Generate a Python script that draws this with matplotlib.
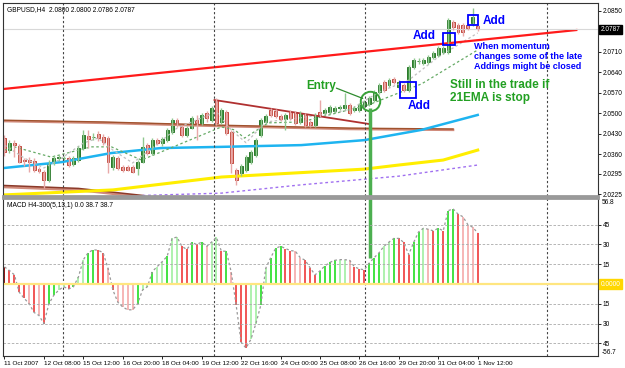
# GBPUSD H4 chart with MACD, trade entry and add-ons
import numpy as np
import matplotlib.pyplot as plt

plt.rcParams['font.family'] = ['Liberation Sans', 'DejaVu Sans']

# ---- candles (bar index 0 = 11 Oct 2007 00:00, H4) ----
opens = [2.0416, 2.0375, 2.0399, 2.0389, 2.0341, 2.0341, 2.0338, 2.0310, 2.0300, 2.0273,
         2.0331, 2.0348, 2.0348, 2.0348, 2.0327, 2.0341, 2.0382, 2.0423, 2.0420, 2.0430,
         2.0420, 2.0416, 2.0317, 2.0348, 2.0317, 2.0317, 2.0317, 2.0314, 2.0334, 2.0392,
         2.0365, 2.0409, 2.0399, 2.0409, 2.0437, 2.0478, 2.0454, 2.0427, 2.0450, 2.0478,
         2.0468, 2.0502, 2.0478, 2.0546, 2.0471, 2.0505, 2.0437, 2.0307, 2.0297, 2.0307,
         2.0334, 2.0358, 2.0427, 2.0471, 2.0512, 2.0509, 2.0491, 2.0481, 2.0505, 2.0502,
         2.0471, 2.0495, 2.0471, 2.0461, 2.0505, 2.0502, 2.0505, 2.0509, 2.0519, 2.0519,
         2.0529, 2.0512, 2.0512, 2.0526, 2.0532, 2.0546, 2.0573, 2.0608, 2.0597, 2.0618,
         2.0590, 2.0597, 2.0580, 2.0659, 2.0679, 2.0672, 2.0676, 2.0693, 2.0700, 2.0710,
         2.0710, 2.0812, 2.0802, 2.0802, 2.0802, 2.0809, 2.0800]
highs = [2.0427, 2.0409, 2.0409, 2.0396, 2.0348, 2.0351, 2.0348, 2.0317, 2.0307, 2.0341,
         2.0358, 2.0358, 2.0355, 2.0355, 2.0355, 2.0389, 2.0444, 2.0444, 2.0433, 2.0440,
         2.0430, 2.0423, 2.0358, 2.0355, 2.0324, 2.0324, 2.0324, 2.0341, 2.0420, 2.0399,
         2.0416, 2.0416, 2.0420, 2.0450, 2.0485, 2.0485, 2.0461, 2.0457, 2.0491, 2.0495,
         2.0502, 2.0509, 2.0526, 2.0553, 2.0519, 2.0512, 2.0444, 2.0314, 2.0327, 2.0358,
         2.0375, 2.0416, 2.0485, 2.0498, 2.0519, 2.0516, 2.0498, 2.0502, 2.0512, 2.0509,
         2.0509, 2.0502, 2.0478, 2.0502, 2.0546, 2.0519, 2.0529, 2.0526, 2.0529, 2.0570,
         2.0536, 2.0526, 2.0536, 2.0546, 2.0560, 2.0580, 2.0604, 2.0614, 2.0621, 2.0625,
         2.0614, 2.0604, 2.0666, 2.0690, 2.0690, 2.0690, 2.0700, 2.0714, 2.0731, 2.0731,
         2.0826, 2.0819, 2.0809, 2.0809, 2.0809, 2.0860, 2.0805]
lows = [2.0355, 2.0365, 2.0351, 2.0331, 2.0321, 2.0300, 2.0300, 2.0297, 2.0246, 2.0266,
        2.0324, 2.0338, 2.0341, 2.0317, 2.0321, 2.0334, 2.0375, 2.0382, 2.0409, 2.0406,
        2.0392, 2.0297, 2.0307, 2.0307, 2.0300, 2.0303, 2.0297, 2.0290, 2.0331, 2.0358,
        2.0358, 2.0392, 2.0389, 2.0403, 2.0430, 2.0454, 2.0420, 2.0420, 2.0447, 2.0409,
        2.0461, 2.0471, 2.0471, 2.0461, 2.0464, 2.0427, 2.0297, 2.0256, 2.0287, 2.0300,
        2.0327, 2.0351, 2.0420, 2.0464, 2.0488, 2.0485, 2.0475, 2.0444, 2.0478, 2.0461,
        2.0464, 2.0454, 2.0454, 2.0454, 2.0488, 2.0495, 2.0498, 2.0502, 2.0512, 2.0512,
        2.0495, 2.0505, 2.0505, 2.0519, 2.0525, 2.0539, 2.0566, 2.0573, 2.0590, 2.0601,
        2.0583, 2.0573, 2.0573, 2.0652, 2.0669, 2.0666, 2.0669, 2.0686, 2.0693, 2.0703,
        2.0703, 2.0785, 2.0771, 2.0765, 2.0785, 2.0799, 2.0782]
closes = [2.0368, 2.0399, 2.0392, 2.0334, 2.0338, 2.0334, 2.0307, 2.0303, 2.0273, 2.0331,
          2.0348, 2.0351, 2.0349, 2.0324, 2.0348, 2.0382, 2.0427, 2.0413, 2.0420, 2.0416,
          2.0403, 2.0334, 2.0351, 2.0314, 2.0307, 2.0307, 2.0300, 2.0334, 2.0386, 2.0365,
          2.0409, 2.0399, 2.0413, 2.0444, 2.0478, 2.0461, 2.0427, 2.0450, 2.0485, 2.0468,
          2.0495, 2.0485, 2.0519, 2.0468, 2.0512, 2.0433, 2.0331, 2.0273, 2.0321, 2.0351,
          2.0368, 2.0409, 2.0478, 2.0491, 2.0495, 2.0491, 2.0481, 2.0495, 2.0485, 2.0468,
          2.0502, 2.0461, 2.0461, 2.0495, 2.0495, 2.0512, 2.0522, 2.0519, 2.0522, 2.0529,
          2.0502, 2.0519, 2.0529, 2.0539, 2.0553, 2.0573, 2.0597, 2.0580, 2.0614, 2.0608,
          2.0608, 2.0580, 2.0659, 2.0683, 2.0680, 2.0683, 2.0693, 2.0707, 2.0724, 2.0724,
          2.0819, 2.0795, 2.0778, 2.0778, 2.0792, 2.0830, 2.0787]

# ---- MACD(5,13,1) histogram + colour codes ----
macd = [13, 10.3, 7, -6.2, -10.8, -14.9, -21.5, -23.8, -30, -15,
        -8.5, -4.6, -2, -3.8, -2, 5.4, 18.5, 23.8, 26, 25.6,
        23.8, 12, -4.6, -13.8, -17.4, -19.5, -19.5, -14.9, -4.6, -2,
        9.5, 13.3, 17, 21, 34.6, 35.6, 28.5, 26.2, 31.5, 30,
        31.8, 28.5, 31.8, 35.4, 24.9, 24.9, 9, -16, -44, -48.5,
        -41.8, -30, -16, 12, 20, 27, 28.7, 26.9, 25.4, 24.9,
        20, 18, 12.3, 7, 10, 13.8, 16.4, 18, 18.5, 18.5,
        18, 13, 11.5, 10.8, 16, 20, 23.8, 28.7, 31.8, 34.6,
        34.6, 31.5, 22.3, 31.5, 39.5, 42.3, 41.5, 40.3, 42.3, 40.3,
        55.6, 57, 53, 51, 45, 43, 38.7]
macd_col = ("D r r r r p r p r g g l l r g l l g g r r p r p p p p g l l "
            "g l l g l l r r g r g p l l r g p r r r l l g l g g g r r p "
            "p r r r g g g g l l p r r r g g g l l g r r r g g l p r g r "
            "g g r p p p r").split()

# ---- overlays ----
trend_x, trend_y = [0, 116], [2.0584, 2.0785]              # red channel line
wedge_x, wedge_y = [42.6, 74], [2.0546, 2.0464]            # brown falling line
slow_x = [0, 20, 44, 70, 91]
slow_y = [2.0474, 2.0468, 2.0457, 2.0447, 2.0444]
low_x, low_y = [0, 15, 28], [2.0252, 2.0242, 2.0218]
cyan_x = [0, 11.6, 21.7, 31.8, 44, 60.2, 73, 84.6, 96]
cyan_y = [2.0314, 2.0334, 2.0365, 2.0382, 2.0386, 2.0392, 2.0409, 2.0444, 2.0495]
yel_x = [0, 22, 44, 73, 80, 89, 96]
yel_y = [2.0222, 2.0239, 2.0283, 2.0310, 2.0324, 2.0341, 2.0375]
purp_x = [28, 44, 60, 80, 96]
purp_y = [2.0220, 2.0228, 2.0256, 2.0286, 2.0324]
ema21_x = [0, 2, 9.5, 17.6, 21.7, 27.8, 44, 46.7, 48.7, 53.5, 60.2, 73.8, 84.6, 96]
ema21_y = [2.0375, 2.0386, 2.0351, 2.0386, 2.0386, 2.0341, 2.0454, 2.0444, 2.0416,
           2.0468, 2.0471, 2.0529, 2.0601, 2.0717]
fast_x = [0, 4, 8, 11, 16, 19, 22, 26, 30, 35, 40, 43, 46, 49, 53, 60, 70, 76, 82, 88, 96]
fast_y = [2.0392, 2.0348, 2.0314, 2.0341, 2.0399, 2.0416, 2.0375, 2.0331, 2.0382, 2.0450,
          2.0485, 2.0505, 2.0444, 2.0400, 2.0471, 2.0485, 2.0512, 2.0573, 2.0614, 2.0693,
          2.0775]
week_sep = [11.8, 42.6, 73.2, 110]
date_labels = ['11 Oct 2007', '12 Oct 08:00', '15 Oct 12:00', '16 Oct 20:00', '18 Oct 04:00',
               '19 Oct 12:00', '22 Oct 16:00', '24 Oct 00:00', '25 Oct 08:00', '26 Oct 16:00',
               '29 Oct 20:00', '31 Oct 04:00', '1 Nov 12:00']
price_ticks = [2.0850, 2.0710, 2.0640, 2.0570, 2.0500, 2.0430, 2.0360, 2.0295, 2.0225]
macd_ticks = [45, 30, 15, -15, -30, -45]
bid = 2.0787

fig = plt.figure(figsize=(6.25, 3.68), dpi=100)
fig.patch.set_facecolor('white')
ax = fig.add_axes([3/625, 1 - 196/368, 595/625, 193/368])
ax2 = fig.add_axes([3/625, 1 - 356/368, 595/625, 158/368])

x = np.arange(len(opens))
o, h, l, c = map(np.array, (opens, highs, lows, closes))
up = c >= o

# moving averages & lines
ax.plot(low_x, low_y, color='#8b3a2a', lw=2)
ax.plot(low_x, np.array(low_y) - 0.0004, color='#d08a7a', lw=1.5)
ax.plot(slow_x, slow_y, color='#d08a7a', lw=1.8)
ax.plot(slow_x, np.array(slow_y) + 0.0003, color='#a0522d', lw=1)
ax.plot(cyan_x, cyan_y, color='#1eb4f0', lw=1.8)
ax.plot(yel_x, yel_y, color='#ffee00', lw=2.2)
ax.plot(purp_x, purp_y, color='#a070f0', lw=1, ls=(0, (2, 2)))
ax.plot(ema21_x, ema21_y, color='#66aa66', lw=0.9, ls=(0, (2, 2)))
ax.plot(fast_x, fast_y, color='#c0c0c0', lw=0.9, ls=(0, (2, 2)))
ax.plot(trend_x, trend_y, color='#ff1a1a', lw=1.6)
ax.plot(wedge_x, wedge_y, color='#b03030', lw=1.3)
ax.axhline(bid, color='#d8d8d8', lw=0.8)

# candles
ax.vlines(x[up], l[up], h[up], color='#8fc88f', lw=1)
ax.vlines(x[~up], l[~up], h[~up], color='#e8a8a8', lw=1)
body = np.maximum(np.abs(c - o), 0.00008)
ax.bar(x[up], body[up], bottom=o[up], width=0.6, color='#2e8b2e', edgecolor='#1a6b1a', lw=0.6)
ax.bar(x[~up], body[~up], bottom=c[~up], width=0.6, color='#e89a96', edgecolor='#c0483c', lw=0.7)

# week separators
for a in (ax, ax2):
    for s in week_sep:
        a.axvline(s, color='#444444', lw=0.8, ls=(0, (2, 2)))

# entry, adds, notes
ax.plot([74.2], [2.0543], 'o', ms=14, mfc='none', mec='#3aa33a', mew=1.4)
ax.vlines(74.2, 2.02, 2.0519, color='#4caf50', lw=2.5)
ax.annotate('', xy=(73.2, 2.0548), xytext=(66.8, 2.0590),
            arrowprops=dict(arrowstyle='-', color='#2e8b2e', lw=0.9))
ax.text(61.3, 2.0594, 'Entry', color='#22a022', fontsize=8.5, fontweight='bold',
        ha='left', va='center')
ax.plot([81.9], [2.0580], 's', ms=11, mfc='none', mec='#0000ff', mew=1.3)
ax.plot([90.1], [2.0754], 's', ms=8, mfc='none', mec='#0000ff', mew=1.3)
ax.plot([95.1], [2.0819], 's', ms=6.5, mfc='none', mec='#0000ff', mew=1.3)
for bx, by in [(84.2, 2.0524), (85.2, 2.0765), (99.4, 2.0816)]:
    ax.text(bx, by, 'Add', color='#0000ff', fontsize=8.5, fontweight='bold',
            ha='center', va='center')
ax.text(95.3, 2.0743, 'When momentum\nchanges some of the late\nAddings might be closed',
        color='#0000ff', fontsize=6.5, fontweight='bold', ha='left', va='top', linespacing=1.15)
ax.text(90.3, 2.0617, 'Still in the trade if\n21EMA is stop', color='#22a022',
        fontsize=8.5, fontweight='bold', ha='left', va='top', linespacing=1.05)
ax.text(0.007, 0.985, 'GBPUSD,H4  2.0800 2.0800 2.0786 2.0787', transform=ax.transAxes,
        fontsize=4.8, ha='left', va='top')

ax.set_xlim(-0.3, 120.4)
ax.set_ylim(2.02182, 2.08773)
ax.yaxis.tick_right()
ax.set_yticks(price_ticks)
ax.set_yticklabels(['%.4f' % p for p in price_ticks])
ax.set_xticks([])
ax.text(1.004, bid, '%.4f' % bid, transform=ax.get_yaxis_transform(), fontsize=4.7,
        color='white', va='center', ha='left',
        bbox=dict(boxstyle='square,pad=0.2', fc='black', ec='black'))

# MACD panel
cmap = {'g': '#33e033', 'l': '#a8f0a8', 'r': '#f04848', 'p': '#f6b0b0', 'D': '#8b0000'}
ax2.vlines(x, 0, macd, colors=[cmap[k] for k in macd_col], lw=1.3)
ax2.plot(x, macd, color='#999999', lw=0.9, ls=(0, (2, 2)))
ax2.vlines(74.2, 19.7, 70, color='#4caf50', lw=2.5)
for t in macd_ticks:
    ax2.axhline(t, color='#aaaaaa', lw=0.6, ls=(0, (3, 2)))
ax2.axhline(0, color='#ffe680', lw=1.6)
ax2.set_xlim(-0.3, 120.4)
ax2.set_ylim(-54.5, 65.2)
ax2.yaxis.tick_right()
ax2.set_yticks(macd_ticks)
ax2.set_yticklabels([str(abs(t)) for t in macd_ticks])
ax2.text(1.004, 0, '0.0000', transform=ax2.get_yaxis_transform(), fontsize=4.7,
         color='white', va='center', ha='left',
         bbox=dict(boxstyle='square,pad=0.2', fc='#ffd700', ec='#ffd700'))
ax2.text(1.006, 0.995, '56.8', transform=ax2.transAxes, fontsize=4.7, va='top')
ax2.text(1.006, 0.0, '-56.7', transform=ax2.transAxes, fontsize=4.7, va='bottom')
ax2.text(0.007, 0.975, 'MACD H4-300(5,13,1) 0.0 38.7 38.7', transform=ax2.transAxes,
         fontsize=4.8, ha='left', va='top')
ax2.set_xticks(np.arange(0, 97, 8))
ax2.set_xticklabels(date_labels, ha='left')

for a in (ax, ax2):
    a.tick_params(labelsize=4.7, length=2, width=0.6, pad=1.5)
    for sp in a.spines.values():
        sp.set_color('#333333')
        sp.set_linewidth(0.8)
ax2.tick_params(axis='x', labelsize=4.6, pad=1.5)
ax.spines['bottom'].set_color('#999999')
ax.spines['bottom'].set_linewidth(2)
ax2.spines['top'].set_color('#999999')
ax2.spines['top'].set_linewidth(2)

fig.savefig('out.png', dpi=100, facecolor='white')
